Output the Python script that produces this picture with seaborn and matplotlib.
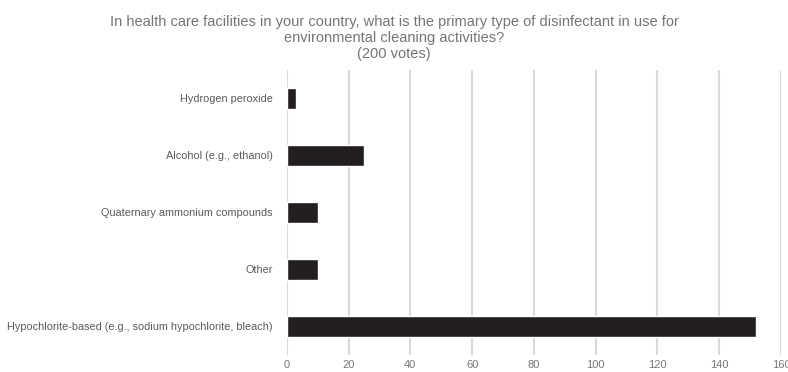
import numpy as np
import pandas as pd
import matplotlib.pyplot as plt
import seaborn as sns

categorias = ['Hydrogen peroxide', 'Alcohol (e.g., ethanol)', 'Quaternary ammonium compounds',
              'Other', 'Hypochlorite-based (e.g., sodium hypochlorite, bleach)']
votos = [3, 25, 10, 10, 152]
titulo = ('In health care facilities in your country, what is the primary type of disinfectant in use for\n'
          'environmental cleaning activities?\n(200 votes)')

sns.set_style('white')
plt.rcParams['font.family'] = ['Liberation Sans', 'DejaVu Sans']

df = pd.DataFrame({'cat': categorias, 'votos': votos})

fig = plt.figure(figsize=(7.88, 3.72), dpi=100)
ax = fig.add_axes([0.364, 0.046, 0.627, 0.766])
sns.barplot(data=df, x='votos', y='cat', color='#231f20', width=0.36, ax=ax, saturation=1)

ax.set_xlim(0, 160)
ax.set_ylim(4.5, -0.5)
ax.set_xticks(np.arange(0, 161, 20))
ax.grid(axis='x', color='#d9d9d9', linewidth=1.5)
ax.set_axisbelow(True)
for s in ax.spines.values():
    s.set_visible(False)
ax.tick_params(axis='both', length=0)
ax.tick_params(axis='x', labelsize=8, labelcolor='#777777', pad=4)
ax.tick_params(axis='y', labelsize=7.8, labelcolor='#5a5a5a', pad=10)
ax.set_xlabel('')
ax.set_ylabel('')
fig.suptitle(titulo, x=0.5, y=0.96, fontsize=10.5, color='#757575', linespacing=1.2)

fig.savefig('out.png', dpi=100)
